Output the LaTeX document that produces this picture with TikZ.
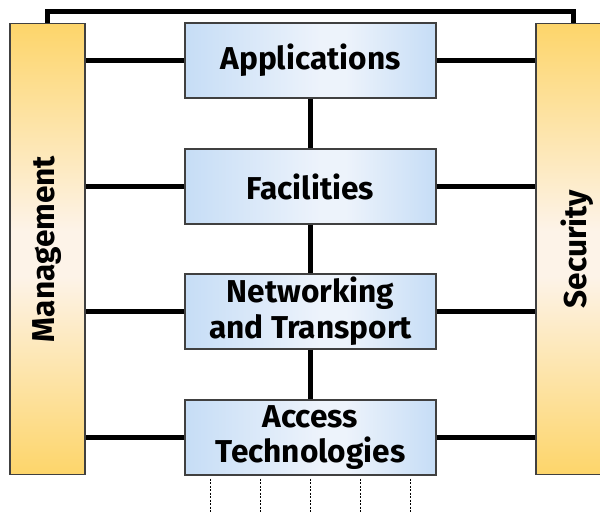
\documentclass[tikz,border=0pt]{standalone}
\usepackage{fontspec}
\setmainfont{Fira Sans}
\definecolor{boxedge}{HTML}{C6DDF6}
\definecolor{boxmid}{HTML}{EDF3FB}
\definecolor{bargold}{HTML}{FDD56A}
\definecolor{barpale}{HTML}{FDF3E8}
\pgfdeclarehorizontalshading{boxshade}{100bp}{color(0bp)=(boxedge); color(25bp)=(boxedge); color(52bp)=(boxmid); color(57bp)=(boxmid); color(75bp)=(boxedge); color(100bp)=(boxedge)}
\pgfdeclareverticalshading{barshade}{100bp}{color(0bp)=(bargold); color(25bp)=(bargold); color(47bp)=(barpale); color(52bp)=(barpale); color(75bp)=(bargold); color(100bp)=(bargold)}
\begin{document}
\begin{tikzpicture}[x=0.02cm,y=-0.02cm,
  layer/.style={draw=black!75, line width=0.6pt, shading=boxshade,
    minimum width=5.02cm, minimum height=1.5cm, inner sep=0pt, align=center,
    font=\fontsize{18}{20.4}\selectfont\bfseries},
  sidebar/.style={draw=black!75, line width=0.6pt, shading=barshade,
    minimum width=1.5cm, minimum height=9.04cm, inner sep=0pt},
  sidetext/.style={rotate=90, font=\fontsize{18}{20.4}\selectfont\bfseries},
  conn/.style={line width=2.3pt, black},
  dots/.style={line width=1.1pt, dash pattern=on 1.2pt off 0.8pt}]
\useasboundingbox (0,0) rectangle (600,513);
\clip (0,0) rectangle (600,513);
\node[sidebar] (mgmt) at (47.5,249) {};
\node[sidebar] (sec) at (573.5,249) {};
\node[sidetext] (mgmtlabel) at (mgmt.center) {Management};
\node[sidetext] (seclabel) at (577,249) {Security};
\node[layer] (app) at (310.5,60.5) {Applications};
\node[layer] (fac) at (310.5,186.5) {Facilities};
\node[layer] (net) at (310.5,311.5) {Networking\\and Transport};
\node[layer] (acc) at (310.5,437.5) {Access\\Technologies};
\foreach \n in {app,fac,net,acc}{
  \draw[conn] (\n.west) -- (\n.west -| mgmt.east);
  \draw[conn] (\n.east) -- (\n.east -| sec.west);
}
\draw[conn] (app.south) -- (fac.north);
\draw[conn] (fac.south) -- (net.north);
\draw[conn] (net.south) -- (acc.north);
\draw[conn] (mgmt.north) -- ++(0,-11) -| (sec.north);
\foreach \dx in {-100,-50,0,50,100}
  \draw[dots] ([xshift=\dx*0.02cm, yshift=-0.06cm]acc.south) -- ++(0,40);
\end{tikzpicture}
\end{document}
